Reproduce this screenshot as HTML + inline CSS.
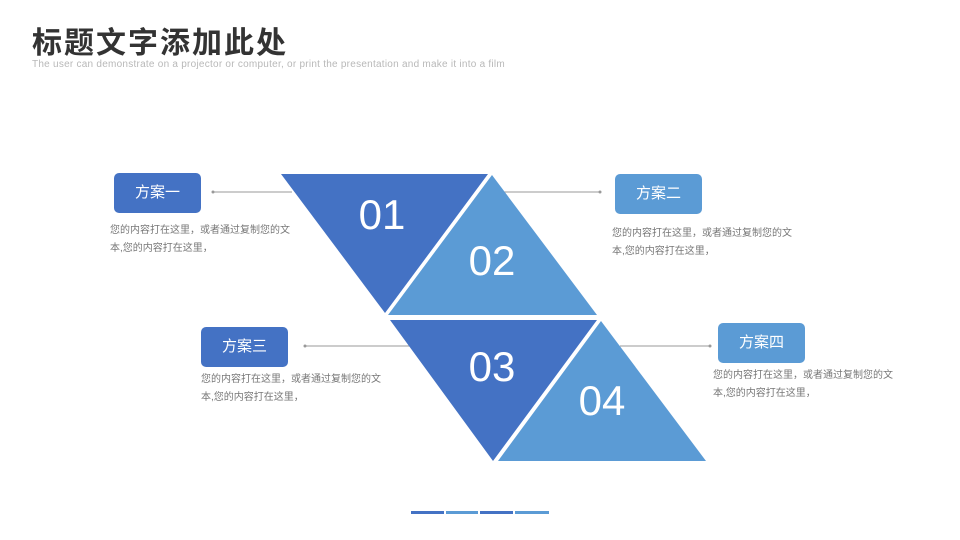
<!DOCTYPE html>
<html><head><meta charset="utf-8"><style>
body{margin:0;width:960px;height:540px;background:#fff;position:relative;overflow:hidden;font-family:"Liberation Sans","Noto Sans CJK SC",sans-serif}
.a{position:absolute}
.t{font-size:30px;font-weight:bold;color:#333;left:32px;top:28px;letter-spacing:2px;line-height:32px}
.s{font-size:10px;color:#b8b8b8;left:32px;top:59px;letter-spacing:0.25px;line-height:12px}
.b{position:absolute;width:87px;height:40px;border-radius:5px;color:#fff;font-size:15px;line-height:40px;text-align:center}
.p{position:absolute;font-size:10px;color:#777;line-height:18px;width:188px}
</style></head><body>
<div class="a t">标题文字添加此处</div>
<div class="a s">The user can demonstrate on a projector or computer, or print the presentation and make it into a film</div>
<svg class="a" style="left:0;top:0" width="960" height="540">
<g stroke="#999" stroke-width="1">
<line x1="213" y1="192" x2="292" y2="192"/><line x1="500" y1="192" x2="600" y2="192"/>
<line x1="305" y1="346" x2="410" y2="346"/><line x1="620" y1="346" x2="710" y2="346"/>
</g>
<g fill="#999"><circle cx="213" cy="192" r="1.5"/><circle cx="600" cy="192" r="1.5"/><circle cx="305" cy="346" r="1.5"/><circle cx="710" cy="346" r="1.5"/></g>
<polygon points="281,174 488,174 385,313" fill="#4472c4"/>
<polygon points="492,175 597,315 388,315" fill="#5b9bd5"/>
<polygon points="390,320 597,320 493,461" fill="#4472c4"/>
<polygon points="601,321 706,461 498,461" fill="#5b9bd5"/>
<g fill="#fff" font-family="Liberation Sans,sans-serif" font-size="42" text-anchor="middle">
<text x="382" y="229">01</text><text x="492" y="275">02</text><text x="492" y="381">03</text><text x="602" y="415">04</text>
</g>
<rect x="411" y="511" width="33" height="3" fill="#4472c4"/><rect x="446" y="511" width="32" height="3" fill="#5b9bd5"/>
<rect x="480" y="511" width="33" height="3" fill="#4472c4"/><rect x="515" y="511" width="34" height="3" fill="#5b9bd5"/>
</svg>
<div class="b" style="left:114px;top:173px;background:#4472c4">方案一</div>
<div class="b" style="left:615px;top:174px;background:#5b9bd5">方案二</div>
<div class="b" style="left:201px;top:327px;background:#4472c4">方案三</div>
<div class="b" style="left:718px;top:323px;background:#5b9bd5">方案四</div>
<div class="p" style="left:110px;top:222px">您的内容打在这里，或者通过复制您的文本,您的内容打在这里，</div>
<div class="p" style="left:612px;top:225px">您的内容打在这里，或者通过复制您的文本,您的内容打在这里，</div>
<div class="p" style="left:201px;top:371px">您的内容打在这里，或者通过复制您的文本,您的内容打在这里，</div>
<div class="p" style="left:713px;top:367px">您的内容打在这里，或者通过复制您的文本,您的内容打在这里，</div>
</body></html>
